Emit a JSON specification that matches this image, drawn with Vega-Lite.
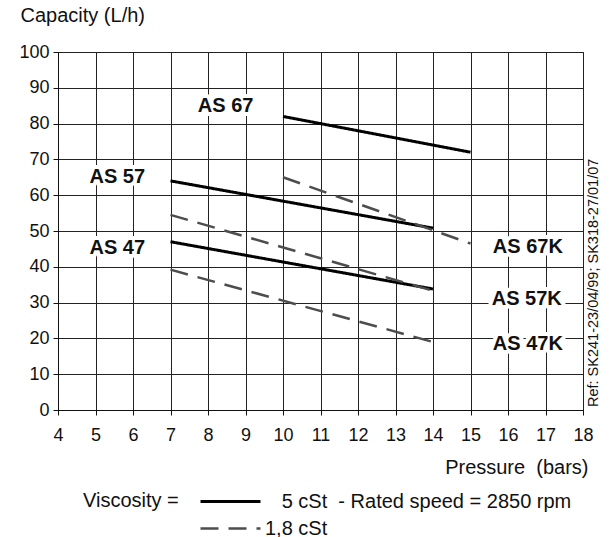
{
  "$schema": "https://vega.github.io/schema/vega-lite/v6.json",
  "autosize": "none",
  "width": 525,
  "height": 358,
  "padding": {"left": 58, "top": 52, "right": 27, "bottom": 127},
  "background": "white",
  "config": {
    "font": "Liberation Sans",
    "view": {"stroke": "#111", "strokeWidth": 1},
    "axis": {"labelFont": "Liberation Sans", "titleFont": "Liberation Sans", "labelColor": "#111", "titleColor": "#111", "titleFontWeight": "normal", "gridColor": "#222", "gridOpacity": 1, "gridWidth": 1, "domainColor": "#111", "tickColor": "#111", "labelFontSize": 18, "titleFontSize": 20, "labelOverlap": false, "labelFlush": false}
  },
  "datasets": {
    "curves": [
      {"series": "AS 67", "visc": "5 cSt", "p": 10, "q": 82},
      {"series": "AS 67", "visc": "5 cSt", "p": 15, "q": 72},
      {"series": "AS 57", "visc": "5 cSt", "p": 7, "q": 64},
      {"series": "AS 57", "visc": "5 cSt", "p": 14, "q": 50.8},
      {"series": "AS 47", "visc": "5 cSt", "p": 7, "q": 47},
      {"series": "AS 47", "visc": "5 cSt", "p": 14, "q": 33.8},
      {"series": "AS 67K", "visc": "1,8 cSt", "p": 10, "q": 65},
      {"series": "AS 67K", "visc": "1,8 cSt", "p": 15, "q": 46.5},
      {"series": "AS 57K", "visc": "1,8 cSt", "p": 7, "q": 54.5},
      {"series": "AS 57K", "visc": "1,8 cSt", "p": 14, "q": 33.3},
      {"series": "AS 47K", "visc": "1,8 cSt", "p": 7, "q": 39.2},
      {"series": "AS 47K", "visc": "1,8 cSt", "p": 14, "q": 19}
    ],
    "labels": [
      {"label": "AS 67", "p": 8.47, "q": 85},
      {"label": "AS 57", "p": 5.58, "q": 65},
      {"label": "AS 47", "p": 5.58, "q": 45.2},
      {"label": "AS 67K", "p": 16.53, "q": 45.5},
      {"label": "AS 57K", "p": 16.5, "q": 31},
      {"label": "AS 47K", "p": 16.53, "q": 18.4}
    ],
    "ref": [
      {"text": "Ref: SK241-23/04/99; SK318-27/01/07", "p": 18, "q": 0}
    ]
  },
  "encoding": {
    "x": {"field": "p", "type": "quantitative", "scale": {"domain": [4, 18], "nice": false, "zero": false},
      "axis": {"values": [4,5,6,7,8,9,10,11,12,13,14,15,16,17,18], "tickSize": 5, "labelPadding": 11, "title": "Pressure\u00a0\u00a0(bars)", "titleAnchor": "end", "titleAlign": "right", "titleBaseline": "middle", "titleX": 530, "titleY": 57}},
    "y": {"field": "q", "type": "quantitative", "scale": {"domain": [0, 100], "nice": false},
      "axis": {"values": [0,10,20,30,40,50,60,70,80,90,100], "tickSize": 5, "labelPadding": 4, "title": "Capacity (L/h)", "titleAngle": 0, "titleAlign": "left", "titleBaseline": "middle", "titleX": -38, "titleY": -37}}
  },
  "layer": [
    {
      "data": {"name": "curves"},
      "mark": {"type": "line", "strokeCap": "butt"},
      "encoding": {
        "detail": {"field": "series"},
        "strokeDash": {"field": "visc", "type": "nominal", "scale": {"domain": ["5 cSt", "1,8 cSt"], "range": [[1, 0], [18, 10]]},
          "legend": {"orient": "none", "legendX": 25, "legendY": 433, "title": "Viscosity =", "titleOrient": "left", "titleAnchor": "start", "titleFontSize": 20, "titleFontWeight": "normal", "titleFont": "Liberation Sans", "titleColor": "#111", "titlePadding": 20, "titleBaseline": "line-top", "titleLineHeight": 32, "labelFontSize": 20, "labelFont": "Liberation Sans", "labelColor": "#111", "labelLimit": 500, "symbolType": "M-1,0H3", "symbolSize": 900, "rowPadding": -6, "labelOffset": 33,
            "labelExpr": "datum.label == '5 cSt' ? '\u200b\u00a0\u00a0\u00a05 cSt\u00a0\u00a0- Rated speed = 2850 rpm' : datum.label"}},
        "color": {"field": "visc", "type": "nominal", "scale": {"domain": ["5 cSt", "1,8 cSt"], "range": ["#000000", "#4d4d4d"]}},
        "strokeWidth": {"field": "visc", "type": "nominal", "scale": {"domain": ["5 cSt", "1,8 cSt"], "range": [3, 2.5]}}
      }
    },
    {
      "data": {"name": "labels"},
      "mark": {"type": "text", "font": "Liberation Sans", "fontWeight": "bold", "fontSize": 20, "stroke": "white", "strokeWidth": 8, "strokeJoin": "round", "align": "center", "baseline": "middle"},
      "encoding": {
        "text": {"field": "label"}
      }
    },
    {
      "data": {"name": "labels"},
      "mark": {"type": "text", "font": "Liberation Sans", "fontWeight": "bold", "fontSize": 20, "fill": "#111", "align": "center", "baseline": "middle"},
      "encoding": {
        "text": {"field": "label"}
      }
    },
    {
      "data": {"name": "ref"},
      "mark": {"type": "text", "font": "Liberation Sans", "fontSize": 14.5, "fill": "#111", "angle": 270, "align": "left", "baseline": "middle", "xOffset": 11, "yOffset": -3},
      "encoding": {
        "text": {"field": "text"}
      }
    }
  ]
}
